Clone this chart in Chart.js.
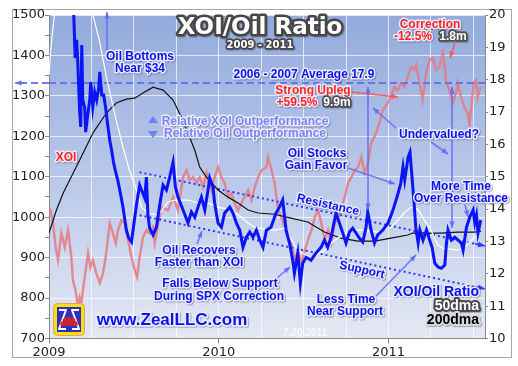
<!DOCTYPE html>
<html>
<head>
<meta charset="utf-8">
<script src="https://cdn.jsdelivr.net/npm/chart.js@4.4.1/dist/chart.umd.min.js"></script>
<style>
  html, body { margin: 0; padding: 0; background: #fff; }
  canvas { display: block; }
</style>
</head>
<body>
<canvas id="ratioChart" width="518" height="366"></canvas>
<script>
// XOI/Oil ratio 2009 - 2011, dates are decimal years

const xMin = 2009;
const xMax = 2011.569;
const yearLabels = [2009, 2010, 2011];

// XOI/Oil ratio (right axis)
const ratioDates = [
  2009.000, 2009.063, 2009.122, 2009.146, 2009.154, 2009.163, 2009.169, 2009.175, 2009.181, 2009.187,
  2009.193, 2009.199, 2009.210, 2009.216, 2009.228, 2009.240, 2009.246, 2009.258, 2009.269, 2009.281,
  2009.293, 2009.299, 2009.311, 2009.322, 2009.334, 2009.346, 2009.358, 2009.369, 2009.381, 2009.393,
  2009.405, 2009.417, 2009.436, 2009.456, 2009.470, 2009.486, 2009.493, 2009.515, 2009.534, 2009.545,
  2009.564, 2009.574, 2009.583, 2009.593, 2009.613, 2009.633, 2009.652, 2009.672, 2009.692, 2009.711,
  2009.731, 2009.745, 2009.760, 2009.790, 2009.819, 2009.839, 2009.859, 2009.878, 2009.898, 2009.918,
  2009.937, 2009.947, 2009.966, 2009.976, 2009.996, 2010.016, 2010.035, 2010.065, 2010.084, 2010.104,
  2010.124, 2010.143, 2010.163, 2010.183, 2010.202, 2010.222, 2010.242, 2010.261, 2010.281, 2010.308,
  2010.338, 2010.358, 2010.377, 2010.397, 2010.417, 2010.436, 2010.446, 2010.466, 2010.481, 2010.495,
  2010.515, 2010.544, 2010.573, 2010.603, 2010.623, 2010.642, 2010.662, 2010.691, 2010.711, 2010.731,
  2010.750, 2010.770, 2010.790, 2010.809, 2010.829, 2010.849, 2010.868, 2010.878, 2010.898, 2010.918,
  2010.937, 2010.967, 2010.998, 2011.027, 2011.057, 2011.073, 2011.086, 2011.096, 2011.116, 2011.127,
  2011.139, 2011.151, 2011.161, 2011.175, 2011.185, 2011.204, 2011.224, 2011.243, 2011.257, 2011.273,
  2011.292, 2011.312, 2011.332, 2011.342, 2011.351, 2011.371, 2011.391, 2011.410, 2011.430, 2011.440,
  2011.460, 2011.479, 2011.499, 2011.509, 2011.519, 2011.528, 2011.544
];
const ratioValues = [
  24.5, 25.0, 23.0, 20.0, 18.67, 19.23, 18.61, 17.77, 16.97, 16.54,
  19.07, 17.37, 17.15, 16.38, 16.91, 17.37, 17.93, 17.15, 17.62, 17.37,
  17.74, 18.24, 17.53, 17.53, 17.12, 16.60, 16.13, 15.82, 15.42, 15.14,
  14.90, 14.59, 14.06, 13.35, 13.10, 12.98, 13.26, 14.12, 14.74, 14.59,
  14.34, 14.99, 13.81, 13.41, 13.20, 13.44, 14.12, 14.74, 14.59, 14.99,
  15.45, 14.68, 14.37, 13.97, 13.57, 13.91, 13.75, 14.06, 14.37, 13.97,
  14.59, 14.96, 14.68, 14.19, 13.57, 13.44, 13.88, 14.06, 13.88, 13.57,
  13.35, 12.82, 13.13, 13.29, 13.13, 13.35, 13.04, 12.82, 13.35, 13.44,
  13.88, 14.06, 14.28, 13.35, 12.95, 12.42, 12.02, 12.64, 11.71, 12.33,
  12.51, 12.42, 12.64, 12.82, 13.04, 12.82, 13.13, 13.88, 13.57, 13.26,
  12.95, 13.29, 13.41, 13.26, 13.10, 12.98, 13.44, 13.91, 13.35, 12.95,
  13.20, 13.35, 13.57, 13.97, 14.49, 14.80, 15.30, 14.90, 15.61, 15.76,
  14.99, 14.19, 13.44, 12.95, 13.35, 13.04, 13.35, 13.04, 12.82, 12.33,
  12.21, 12.17, 12.27, 12.95, 13.35, 13.04, 13.13, 13.04, 12.95, 12.73,
  13.44, 13.75, 13.97, 13.57, 13.81, 13.26, 13.66
];

// XOI index (left axis)
const xoiDates = [
  2009.004, 2009.024, 2009.039, 2009.053, 2009.073, 2009.093, 2009.112, 2009.132, 2009.141, 2009.157,
  2009.171, 2009.181, 2009.191, 2009.200, 2009.216, 2009.230, 2009.244, 2009.259, 2009.279, 2009.299,
  2009.318, 2009.334, 2009.348, 2009.358, 2009.377, 2009.393, 2009.407, 2009.427, 2009.446, 2009.466,
  2009.486, 2009.505, 2009.519, 2009.534, 2009.554, 2009.574, 2009.593, 2009.613, 2009.623, 2009.662,
  2009.701, 2009.731, 2009.760, 2009.790, 2009.810, 2009.829, 2009.849, 2009.869, 2009.888, 2009.908,
  2009.928, 2009.937, 2009.957, 2009.976, 2009.996, 2010.016, 2010.035, 2010.055, 2010.075, 2010.094,
  2010.114, 2010.134, 2010.153, 2010.173, 2010.193, 2010.212, 2010.232, 2010.252, 2010.281, 2010.291,
  2010.311, 2010.330, 2010.350, 2010.370, 2010.389, 2010.408, 2010.428, 2010.448, 2010.467, 2010.487,
  2010.507, 2010.526, 2010.546, 2010.566, 2010.585, 2010.605, 2010.625, 2010.644, 2010.664, 2010.684,
  2010.703, 2010.723, 2010.743, 2010.762, 2010.782, 2010.802, 2010.821, 2010.841, 2010.860, 2010.880,
  2010.898, 2010.927, 2010.947, 2010.967, 2010.996, 2011.015, 2011.035, 2011.055, 2011.074, 2011.094,
  2011.114, 2011.133, 2011.153, 2011.163, 2011.183, 2011.202, 2011.222, 2011.242, 2011.261, 2011.281,
  2011.301, 2011.320, 2011.330, 2011.340, 2011.360, 2011.379, 2011.398, 2011.408, 2011.428, 2011.448,
  2011.467, 2011.477, 2011.487, 2011.503, 2011.516, 2011.526, 2011.536, 2011.546
];
const xoiValues = [
  1025, 985, 926, 894, 960, 926, 968, 901, 844, 819,
  777, 802, 787, 819, 869, 911, 876, 894, 861, 837,
  861, 901, 951, 985, 960, 936, 968, 993, 985, 943,
  901, 869, 852, 901, 951, 968, 960, 975, 936, 1025,
  1017, 1050, 1017, 1099, 1116, 1092, 1099, 1084, 1099, 1074,
  1109, 1092, 1067, 1099, 1124, 1099, 1084, 1050, 1059, 1035,
  1017, 1035, 1050, 1067, 1042, 1074, 1099, 1116, 1124, 1149,
  1116, 1084, 1017, 1000, 975, 951, 936, 894, 918, 886,
  918, 943, 968, 1000, 1017, 985, 943, 968, 936, 985,
  1000, 1025, 1050, 1084, 1099, 1116, 1124, 1149, 1109, 1134,
  1183, 1208, 1233, 1265, 1282, 1297, 1322, 1314, 1332, 1322,
  1347, 1371, 1364, 1376, 1332, 1290, 1356, 1389, 1394, 1364,
  1371, 1406, 1381, 1332, 1314, 1282, 1307, 1332, 1297, 1272,
  1257, 1228, 1265, 1332, 1339, 1297, 1314, 1322
];

// 200 day moving average of the ratio
const dma200Dates = [
  2009.000, 2009.044, 2009.083, 2009.122, 2009.181, 2009.259, 2009.338, 2009.397, 2009.456, 2009.505,
  2009.554, 2009.613, 2009.672, 2009.731, 2009.780, 2009.819, 2009.859, 2009.888, 2009.928, 2009.996,
  2010.055, 2010.114, 2010.173, 2010.232, 2010.328, 2010.426, 2010.525, 2010.623, 2010.721, 2010.819,
  2010.918, 2011.015, 2011.114, 2011.143, 2011.212, 2011.310, 2011.408, 2011.507, 2011.546
];
const dma200Values = [
  13.26, 13.97, 14.49, 14.90, 15.52, 16.35, 16.97, 17.28, 17.40, 17.43,
  17.59, 17.77, 17.68, 17.37, 16.85, 16.35, 15.82, 15.30, 14.99, 14.59,
  14.37, 14.19, 13.97, 13.88, 13.84, 13.72, 13.60, 13.29, 13.10, 13.01,
  13.01, 13.10, 13.20, 13.26, 13.26, 13.26, 13.29, 13.29, 13.32
];

// 50 day moving average of the ratio
const dma50Dates = [
  2009.000, 2009.010, 2009.024, 2009.034, 2009.093, 2009.181, 2009.259, 2009.299, 2009.338, 2009.393,
  2009.434, 2009.470, 2009.515, 2009.545, 2009.583, 2009.642, 2009.701, 2009.741, 2009.819, 2009.878,
  2009.937, 2009.996, 2010.075, 2010.134, 2010.173, 2010.212, 2010.271, 2010.330, 2010.387, 2010.466,
  2010.544, 2010.623, 2010.682, 2010.780, 2010.859, 2010.937, 2011.015, 2011.055, 2011.094, 2011.133,
  2011.173, 2011.212, 2011.251, 2011.291, 2011.330, 2011.369, 2011.408, 2011.448, 2011.487, 2011.538
];
const dma50Values = [
  18.14, 18.92, 19.63, 20.1, 21.5, 21.5, 20.0, 19.16, 18.08, 16.81,
  15.95, 15.27, 14.59, 14.06, 13.88, 13.81, 14.22, 14.28, 14.28, 14.19,
  14.19, 14.06, 13.97, 13.75, 13.57, 13.44, 13.38, 13.35, 13.41, 12.73,
  12.48, 12.73, 13.04, 13.35, 13.35, 13.29, 13.44, 13.66, 13.88, 14.06,
  14.00, 13.66, 13.35, 12.89, 12.76, 12.76, 12.73, 12.82, 13.04, 13.26
];

// 2006-2007 average and the trend channel
const avg0607 = 17.9;
const channelDates = [2009.534, 2011.544];
const resistanceValues = [15.14, 12.89];
const supportValues = [13.81, 11.56];

const pairs = (xs, ys) => xs.map((x, i) => ({ x: x, y: ys[i] }));

function halo(ctx, text, x, y, fill, edge, font, align, width) {
    ctx.font = font;
    ctx.textAlign = align || 'center';
    ctx.textBaseline = 'middle';
    ctx.lineJoin = 'round';
    ctx.save();
    ctx.shadowColor = 'rgba(40,40,60,0.35)';
    ctx.shadowOffsetX = 1;
    ctx.shadowOffsetY = 1;
    ctx.shadowBlur = 1;
    ctx.lineWidth = width || 3;
    ctx.strokeStyle = edge;
    ctx.strokeText(text, x, y);
    ctx.restore();
    ctx.fillStyle = fill;
    ctx.fillText(text, x, y);
}

function arrow(ctx, x1, y1, x2, y2, color, both) {
    const head = (xa, ya, xb, yb) => {
        const ang = Math.atan2(yb - ya, xb - xa);
        ctx.beginPath();
        ctx.moveTo(xb, yb);
        ctx.lineTo(xb - 7 * Math.cos(ang - 0.4), yb - 7 * Math.sin(ang - 0.4));
        ctx.lineTo(xb - 7 * Math.cos(ang + 0.4), yb - 7 * Math.sin(ang + 0.4));
        ctx.closePath();
        ctx.fill();
    };
    ctx.save();
    ctx.strokeStyle = color;
    ctx.fillStyle = color;
    ctx.lineWidth = 1.6;
    ctx.beginPath();
    ctx.moveTo(x1, y1);
    ctx.lineTo(x2, y2);
    ctx.stroke();
    head(x1, y1, x2, y2);
    if (both) head(x2, y2, x1, y1);
    ctx.restore();
}

const decor = {
    id: 'decor',
    beforeDraw(chart) {
        const { ctx, chartArea: a } = chart;
        ctx.save();
        ctx.fillStyle = '#fff';
        ctx.fillRect(0, 0, chart.width, chart.height);
        ctx.strokeStyle = '#a8a8a8';
        ctx.lineWidth = 1;
        ctx.strokeRect(12.5, 9.5, 499, 348);
        const g = ctx.createLinearGradient(0, a.top, 0, a.bottom);
        g.addColorStop(0, '#93aadc');
        g.addColorStop(0.5, '#b9c8ea');
        g.addColorStop(1, '#e4e8f3');
        ctx.fillStyle = g;
        ctx.fillRect(a.left, a.top, a.right - a.left, a.bottom - a.top);
        ctx.restore();
    },
    afterDatasetsDraw(chart) {
        const { ctx, chartArea: a } = chart;
        const blueArrow = 'rgba(95,105,250,0.85)';
        const redArrow = 'rgba(250,85,85,0.9)';
        ctx.save();

        // average line carried past the left axis
        const yAvg = chart.scales.y1.getPixelForValue(avg0607);
        ctx.strokeStyle = 'rgba(95,110,240,0.9)';
        ctx.lineWidth = 2;
        ctx.setLineDash([7, 4]);
        ctx.beginPath();
        ctx.moveTo(a.left, yAvg);
        ctx.lineTo(20, yAvg);
        ctx.stroke();
        ctx.setLineDash([]);
        arrow(ctx, 24, yAvg, 15, yAvg, 'rgba(95,110,240,0.9)');

        // arrow heads on the channel lines
        [4, 5].forEach(i => {
            const pts = chart.getDatasetMeta(i).data;
            const p0 = pts[0], p1 = pts[pts.length - 1];
            const ang = Math.atan2(p1.y - p0.y, p1.x - p0.x);
            arrow(ctx, p1.x - 6 * Math.cos(ang), p1.y - 6 * Math.sin(ang), p1.x + 4 * Math.cos(ang), p1.y + 4 * Math.sin(ang), '#2a36ff');
        });

        // pointer arrows
        arrow(ctx, 107, 50, 107, 12, blueArrow);
        arrow(ctx, 368, 87, 368, 210, blueArrow, true);
        arrow(ctx, 452, 87, 452, 228, blueArrow, true);
        arrow(ctx, 396, 128, 373, 108, blueArrow);
        arrow(ctx, 431, 142, 448, 154, blueArrow);
        arrow(ctx, 348, 168, 395, 184, blueArrow);
        arrow(ctx, 197, 244, 202, 231, blueArrow);
        arrow(ctx, 277, 278, 290, 267, blueArrow);
        arrow(ctx, 376, 296, 416, 255, blueArrow);
        arrow(ctx, 465, 205, 468, 217, blueArrow);
        arrow(ctx, 351, 92, 398, 97, redArrow);
        arrow(ctx, 455, 43, 450, 58, redArrow);

        // relative performance markers
        ctx.fillStyle = 'rgb(115,125,245)';
        ctx.beginPath();
        ctx.moveTo(153, 116); ctx.lineTo(158, 123); ctx.lineTo(148, 123); ctx.closePath(); ctx.fill();
        ctx.beginPath();
        ctx.moveTo(153, 138); ctx.lineTo(158, 131); ctx.lineTo(148, 131); ctx.closePath(); ctx.fill();
        ctx.restore();
    },
    afterDraw(chart) {
        const ctx = chart.ctx;
        const blue = '#0c12f2';
        const light = 'rgba(236,238,250,0.95)';
        const red = '#ff2424';
        const f12 = 'bold 12px "Liberation Sans"';
        ctx.save();

        halo(ctx, 'XOI/Oil Ratio', 260, 28, '#fff', '#474747', 'bold 23px "DejaVu Sans"', 'center', 5);
        halo(ctx, '2009 - 2011', 260, 45, '#fff', '#474747', 'bold 10px "DejaVu Sans"', 'center', 3.5);

        halo(ctx, 'Oil Bottoms', 140, 57, blue, light, f12);
        halo(ctx, 'Near $34', 140, 69, blue, light, f12);
        halo(ctx, '2006 - 2007 Average 17.9', 304, 75, blue, light, f12);

        halo(ctx, 'Correction', 430, 25, red, light, f12);
        halo(ctx, '-12.5%', 413, 37, red, light, f12);
        halo(ctx, '1.8m', 453, 37, '#fff', '#505050', f12, 'center', 3.5);
        halo(ctx, 'Strong Upleg', 313, 91, red, light, f12);
        halo(ctx, '+59.5%', 297, 103, red, light, f12);
        halo(ctx, '9.9m', 337, 103, '#fff', '#505050', f12, 'center', 3.5);

        halo(ctx, 'Relative XOI Outperformance', 245, 122, 'rgb(125,130,250)', light, f12);
        halo(ctx, 'Relative Oil Outperformance', 245, 134, 'rgb(125,130,250)', light, f12);
        halo(ctx, 'XOI', 66, 158, red, light, f12);

        halo(ctx, 'Undervalued?', 439, 135, blue, light, f12);
        halo(ctx, 'Oil Stocks', 317, 154, blue, light, f12);
        halo(ctx, 'Gain Favor', 316, 166, blue, light, f12);
        halo(ctx, 'More Time', 461, 187, blue, light, f12);
        halo(ctx, 'Over Resistance', 461, 199, blue, light, f12);

        [['Resistance', 328, 205], ['Support', 362, 270]].forEach(([t, x, y]) => {
            ctx.save();
            ctx.translate(x, y);
            ctx.rotate(0.22);
            halo(ctx, t, 0, 0, blue, light, f12);
            ctx.restore();
        });

        halo(ctx, 'Oil Recovers', 199, 251, blue, light, f12);
        halo(ctx, 'Faster than XOI', 199, 263, blue, light, f12);
        halo(ctx, 'Falls Below Support', 220, 284, blue, light, f12);
        halo(ctx, 'During SPX Correction', 219, 297, blue, light, f12);
        halo(ctx, 'Less Time', 346, 300, blue, light, f12);
        halo(ctx, 'Near Support', 345, 312, blue, light, f12);

        halo(ctx, 'XOI/Oil Ratio', 479, 292, blue, light, 'bold 14px "Liberation Sans"', 'right');
        halo(ctx, '50dma', 479, 306, '#fff', '#4a4a4a', 'bold 14px "Liberation Sans"', 'right', 4);
        halo(ctx, '200dma', 479, 320, '#000', '#d8d8dc', 'bold 14px "Liberation Sans"', 'right', 4);

        ctx.font = 'bold 10px "Liberation Sans"';
        ctx.textAlign = 'center';
        ctx.fillStyle = 'rgba(255,255,255,0.75)';
        ctx.fillText('7.20.2011', 305, 333);

        halo(ctx, 'www.ZealLLC.com', 172, 320, blue, light, 'bold 17px "Liberation Sans"', 'center', 3.5);

        // logo
        ctx.fillStyle = '#f6de10';
        ctx.strokeStyle = '#e8a060';
        ctx.lineWidth = 1;
        ctx.beginPath();
        ctx.roundRect(53.5, 303.5, 31, 32, 4);
        ctx.fill();
        ctx.stroke();
        ctx.fillStyle = '#2f2fc4';
        ctx.fillRect(57, 307, 24, 25);
        ctx.strokeStyle = '#fff';
        ctx.lineWidth = 2;
        ctx.beginPath();
        ctx.moveTo(59, 310); ctx.lineTo(66, 310); ctx.lineTo(59, 329); ctx.lineTo(66, 329);
        ctx.moveTo(79, 310); ctx.lineTo(72, 310); ctx.lineTo(79, 329); ctx.lineTo(72, 329);
        ctx.stroke();
        ctx.fillStyle = '#e8201c';
        for (let k = 0; k < 5; k++) {
            const a0 = Math.PI + k * Math.PI / 5 + 0.05;
            ctx.beginPath();
            ctx.moveTo(69, 326);
            ctx.arc(69, 326, 9, a0, a0 + Math.PI / 5 - 0.1);
            ctx.closePath();
            ctx.fill();
        }
        ctx.restore();
    }
};

const tickFont = { family: 'DejaVu Sans', size: 13 };

new Chart(document.getElementById('ratioChart'), {
    type: 'line',
    data: {
        datasets: [
            { label: 'XOI/Oil Ratio', data: pairs(ratioDates, ratioValues), yAxisID: 'y1', borderColor: '#0a14f5', borderWidth: 3 },
            { label: '50dma', data: pairs(dma50Dates, dma50Values), yAxisID: 'y1', borderColor: '#ffffff', borderWidth: 1.2 },
            { label: '200dma', data: pairs(dma200Dates, dma200Values), yAxisID: 'y1', borderColor: '#111111', borderWidth: 1.2 },
            { label: '2006 - 2007 Average', data: pairs([xMin, xMax], [avg0607, avg0607]), yAxisID: 'y1', borderColor: 'rgba(95,110,240,0.9)', borderWidth: 2, borderDash: [7, 4] },
            { label: 'Resistance', data: pairs(channelDates, resistanceValues), yAxisID: 'y1', borderColor: '#2a36ff', borderWidth: 2, borderDash: [2, 3] },
            { label: 'Support', data: pairs(channelDates, supportValues), yAxisID: 'y1', borderColor: '#2a36ff', borderWidth: 2, borderDash: [2, 3] },
            { label: 'XOI', data: pairs(xoiDates, xoiValues), yAxisID: 'y', borderColor: 'rgba(232,120,128,0.85)', borderWidth: 2.4 }
        ]
    },
    options: {
        responsive: false,
        animation: false,
        layout: { padding: { top: 15 } },
        elements: { point: { radius: 0 }, line: { tension: 0 } },
        plugins: { legend: { display: false }, tooltip: { enabled: false } },
        scales: {
            x: {
                type: 'linear',
                min: xMin,
                max: xMax,
                afterFit: s => { s.height = 27.5; },
                ticks: {
                    stepSize: 0.25,
                    includeBounds: false,
                    autoSkip: false,
                    maxRotation: 0,
                    padding: 1,
                    color: '#222',
                    font: tickFont,
                    callback: v => yearLabels.includes(v) ? String(v) : ''
                },
                grid: {
                    color: 'rgba(255,255,255,0.7)',
                    tickColor: c => (c.tick && yearLabels.includes(c.tick.value)) ? '#808080' : 'rgba(0,0,0,0)',
                    tickLength: 5
                },
                border: { color: '#8a8a8a' }
            },
            y: {
                position: 'left',
                min: 700,
                max: 1500,
                afterFit: s => { s.width = 49; },
                ticks: {
                    stepSize: 50,
                    padding: 0,
                    color: '#222',
                    font: tickFont,
                    callback: v => v % 100 === 0 ? String(v) : ''
                },
                grid: {
                    color: c => (c.tick && c.tick.value % 100 === 0) ? 'rgba(255,255,255,0.7)' : 'rgba(0,0,0,0)',
                    tickColor: '#8a8a8a',
                    tickLength: 4
                },
                border: { color: '#8a8a8a' }
            },
            y1: {
                position: 'right',
                min: 10,
                max: 20,
                afterFit: s => { s.width = 33; },
                ticks: { stepSize: 1, padding: 1, color: '#222', font: tickFont },
                grid: { drawOnChartArea: false, tickColor: '#8a8a8a', tickLength: 3 },
                border: { color: '#8a8a8a' }
            }
        }
    },
    plugins: [decor]
});
</script>
</body>
</html>
